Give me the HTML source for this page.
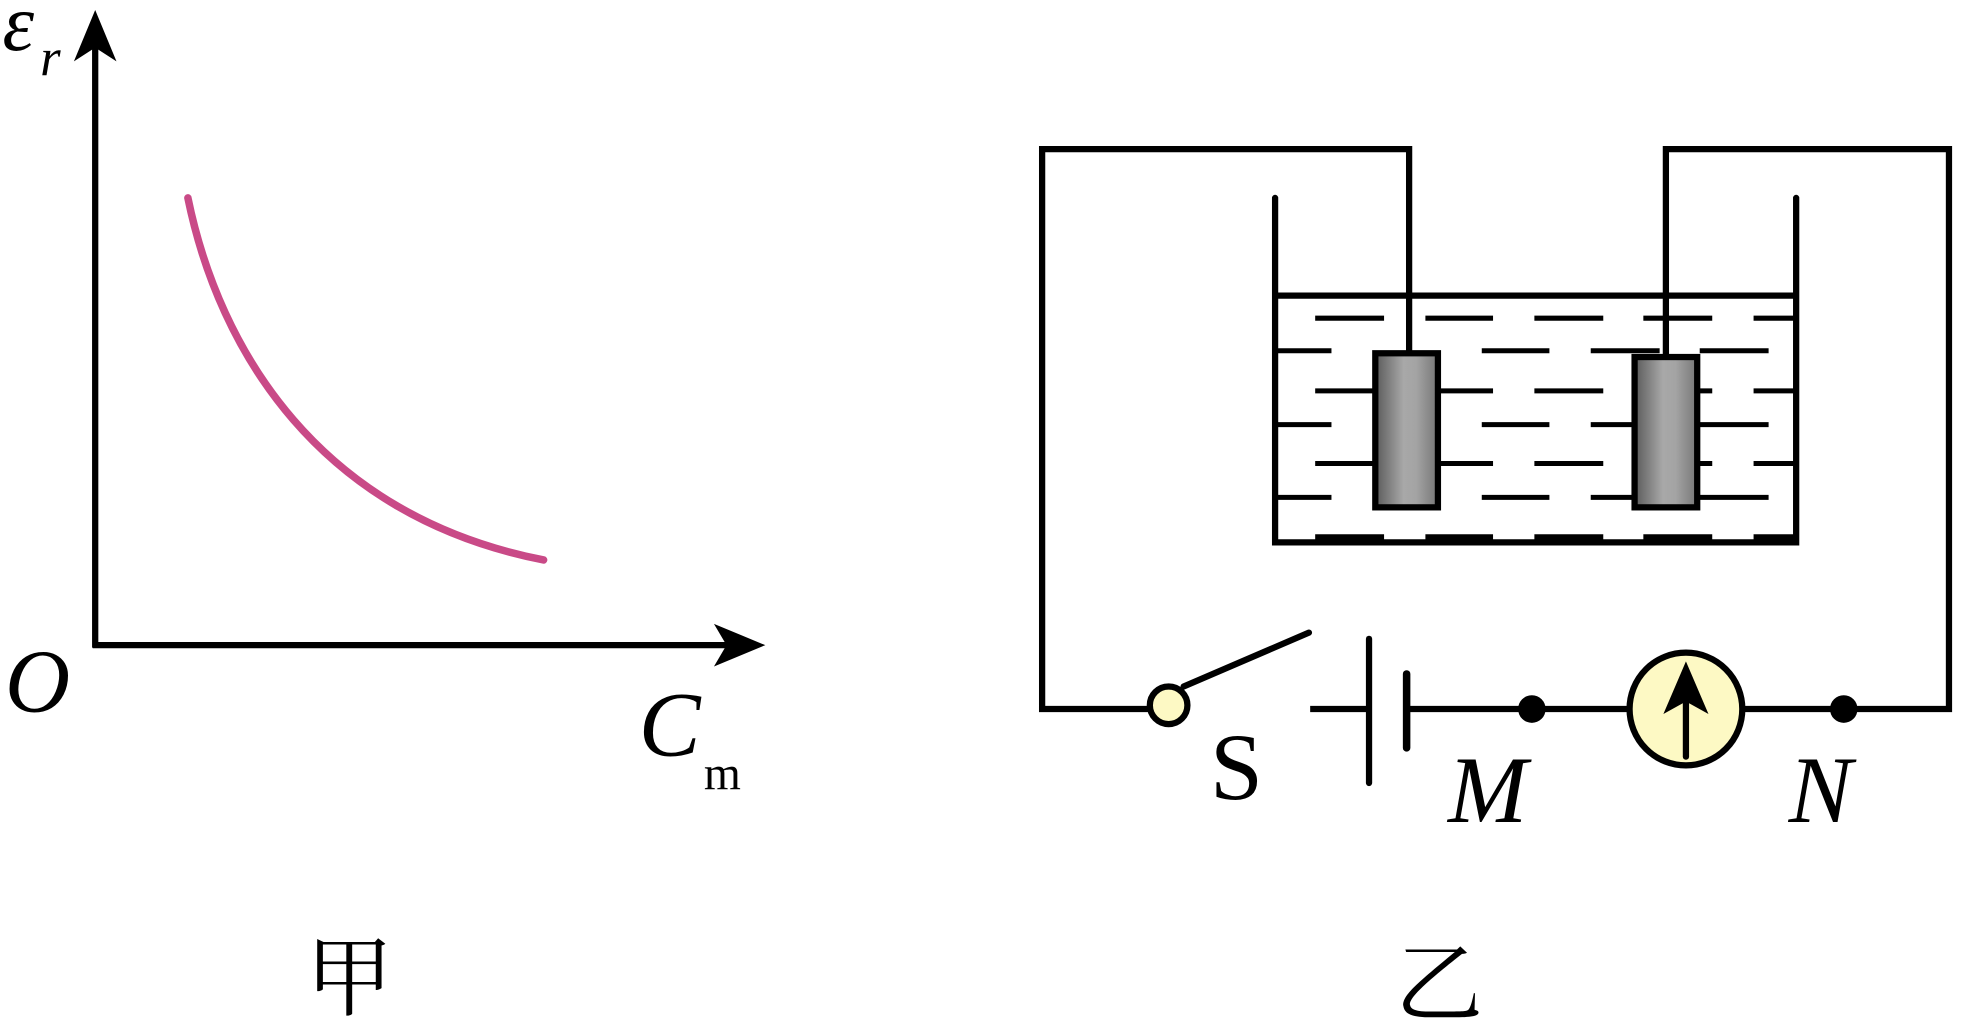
<!DOCTYPE html>
<html><head><meta charset="utf-8"><style>html,body{margin:0;padding:0;background:#fff}svg{display:block}</style></head>
<body>
<svg width="1964" height="1036" viewBox="0 0 1568 827" preserveAspectRatio="none" xmlns="http://www.w3.org/2000/svg">
<defs>
<linearGradient id="g" x1="0" x2="1" y1="0" y2="0">
<stop offset="0" stop-color="#5a5a5a"/><stop offset="0.45" stop-color="#a8a8a8"/><stop offset="0.65" stop-color="#a4a4a4"/><stop offset="1" stop-color="#777"/>
</linearGradient>
</defs>
<g stroke="#000" stroke-width="5" fill="none">
<line x1="76" y1="517" x2="76" y2="30"/>
<line x1="74" y1="515" x2="590" y2="515"/>
</g>
<polygon points="76,8 59,49 76,38 93,49" fill="#000"/>
<polygon points="611,515 570,498 580,515 570,532" fill="#000"/>
<path d="M150,158 C175,280 255,412 434,447" stroke="#c94a87" stroke-width="6" fill="none" stroke-linecap="round"/>
<g font-family="Liberation Serif, serif" font-style="italic" fill="#000">
<text x="2" y="40" font-size="64">ε</text>
<text x="32" y="60" font-size="42">r</text>
<text x="4" y="568" font-size="72">O</text>
<text x="510" y="603" font-size="74">C</text>
</g>
<text x="562" y="630" font-family="Liberation Serif, serif" font-size="38">m</text>
<text x="244" y="805" font-family="Liberation Serif, 'Noto Serif CJK SC', serif" font-size="70">甲</text>
<text x="1114" y="810" font-family="Liberation Serif, 'Noto Serif CJK SC', serif" font-size="70">乙</text>

<g stroke="#000" stroke-width="5" fill="none" stroke-linejoin="miter">
<polyline points="1125,282 1125,119 832,119 832,566 920,566"/>
<polyline points="1330,285 1330,119 1556,119 1556,566 1392,566"/>
<line x1="945" y1="548" x2="1045" y2="505" stroke-linecap="round"/>
<line x1="1046" y1="566" x2="1091" y2="566"/>
<line x1="1123" y1="566" x2="1300" y2="566"/>
<line x1="1093" y1="510" x2="1093" y2="625" stroke-linecap="round"/>
<line x1="1123" y1="538" x2="1123" y2="597" stroke-width="6" stroke-linecap="round"/>
<polyline points="1018,158 1018,433 1434,433 1434,158" stroke-linecap="round"/>
<line x1="1018" y1="236" x2="1434" y2="236"/>
<g stroke-width="4">
<path d="M1050,254h55M1138,254h54M1225,254h55M1312,254h55M1400,254h32"/>
<path d="M1050,312h55M1138,312h54M1225,312h55M1312,312h55M1400,312h32"/>
<path d="M1050,370h55M1138,370h54M1225,370h55M1312,370h55M1400,370h32"/>
<path d="M1020,280h43M1183,280h54M1270,280h55M1357,280h55"/>
<path d="M1020,339h43M1183,339h54M1270,339h55M1357,339h55"/>
<path d="M1020,397h43M1183,397h54M1270,397h55M1357,397h55"/>
</g>
<path d="M1050,429h55M1138,429h54M1225,429h55M1312,429h55M1400,429h32" stroke-width="5"/>
</g>
<rect x="1098" y="282" width="50" height="123" fill="url(#g)" stroke="#000" stroke-width="5"/>
<rect x="1305" y="285" width="50" height="120" fill="url(#g)" stroke="#000" stroke-width="5"/>
<circle cx="933" cy="563" r="15" fill="#fdf9c4" stroke="#000" stroke-width="5"/>
<circle cx="1223" cy="566" r="11" fill="#000"/>
<circle cx="1472" cy="566" r="11" fill="#000"/>
<circle cx="1346" cy="566" r="45" fill="#fdf9c4" stroke="#000" stroke-width="5"/>
<line x1="1346" y1="604" x2="1346" y2="555" stroke="#000" stroke-width="5" stroke-linecap="round"/>
<polygon points="1346,528 1328,570 1346,560 1364,570" fill="#000"/>
<g font-family="Liberation Serif, serif" fill="#000" font-size="76">
<text x="966" y="638">S</text>
<text x="1156" y="656" font-style="italic">M</text>
<text x="1428" y="656" font-style="italic">N</text>
</g>
</svg>
</body></html>
